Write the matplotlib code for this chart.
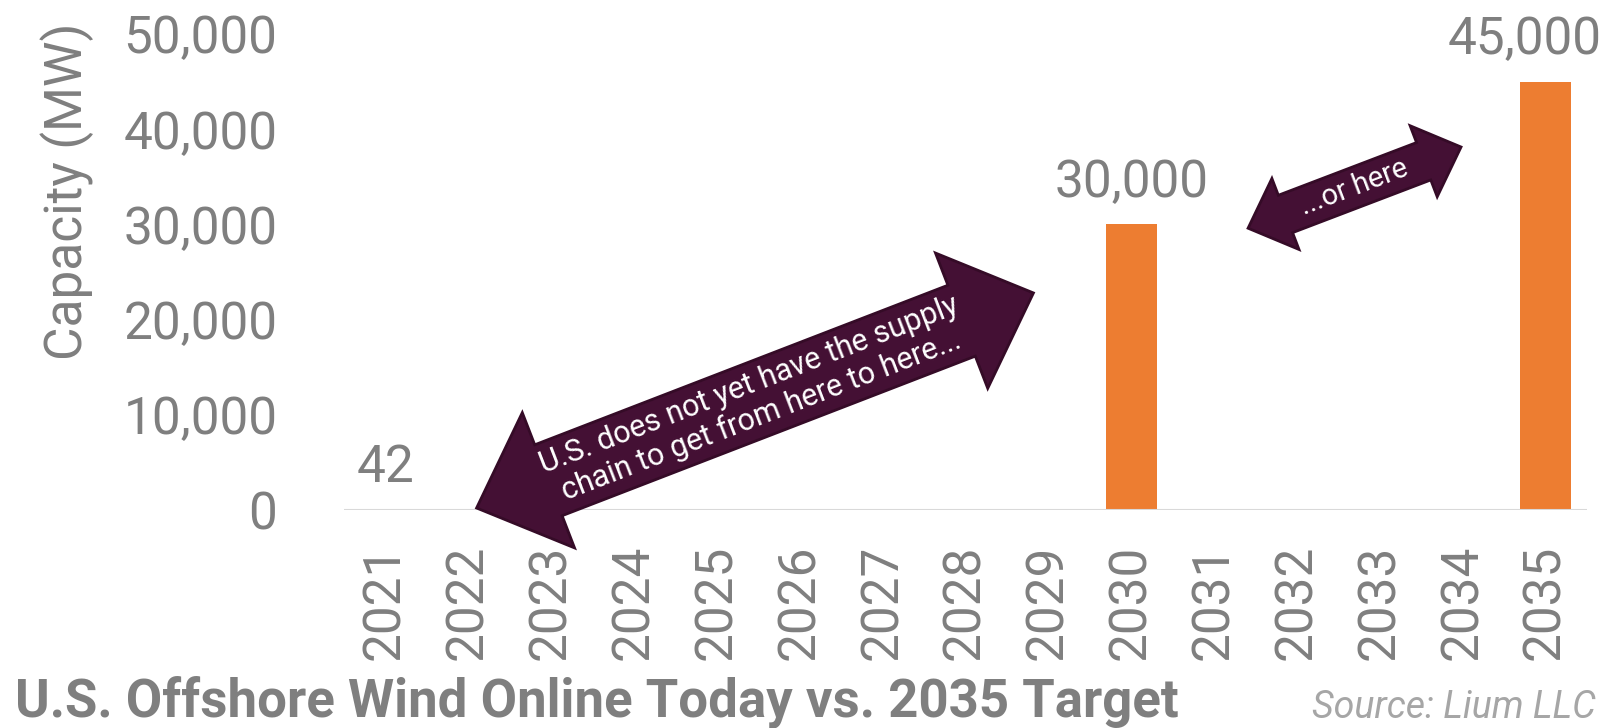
import numpy as np
import matplotlib.pyplot as plt
from matplotlib.patches import Polygon
from matplotlib.transforms import IdentityTransform

# data
years = ['2021', '2022', '2023', '2024', '2025', '2026', '2027', '2028',
         '2029', '2030', '2031', '2032', '2033', '2034', '2035']
capacity = [42, 0, 0, 0, 0, 0, 0, 0, 0, 30000, 0, 0, 0, 0, 45000]
labelled = ['2021', '2030', '2035']

gray = '#7f7f7f'
orange = '#ed7d31'
purple = '#441034'

plt.rcParams['font.family'] = ['Roboto', 'DejaVu Sans']

fig = plt.figure(figsize=(16.11, 7.28), dpi=100)
ax = fig.add_axes([344/1611, 1-510/728, (1587-344)/1611, (510-34)/728])

x = np.arange(len(years))
bars = ax.bar(x, capacity, width=0.62, color=orange, zorder=2)
ax.set_xlim(-0.5, len(years)-0.5)
ax.set_ylim(0, 50000)
ax.set_yticks(np.arange(0, 50001, 10000))
ax.set_yticklabels(['{:,}'.format(v) for v in range(0, 50001, 10000)])
ax.set_xticks(x)
ax.set_xticklabels(years, rotation=90)
ax.tick_params(axis='y', length=0, pad=48, labelsize=37, labelcolor=gray)
ax.tick_params(axis='x', length=0, pad=25, labelsize=37, labelcolor=gray)
for s in ax.spines.values():
    s.set_visible(False)
ax.axhline(0, color='#d9d9d9', lw=1.5, zorder=3)

for xi, yr, v in zip(x, years, capacity):
    if yr in labelled:
        dx = -15 if xi == len(years)-1 else 0  # keep last label inside the picture
        ax.annotate('{:,}'.format(v), (xi, v), xytext=(dx, 30), textcoords='offset points',
                    ha='center', va='center', fontsize=37, color=gray, annotation_clip=False)

fig.text(67/1611, 1-191/728, 'Capacity (MW)', rotation=90, ha='center', va='center',
         fontsize=37, color=gray)

fig.text(15/1611, 1-702/728, 'U.S. Offshore Wind Online Today vs. 2035 Target',
         ha='left', va='center', fontsize=38, fontweight='bold', color=gray)
fig.text(1596/1611, 1-707/728, 'Source: Lium LLC', ha='right', va='center',
         fontsize=27, style='italic', color='#a6a6a6')


def block_arrow(p1, p2, head_len, head_w, shaft_w):
    a = ax.transData.transform(p1)
    b = ax.transData.transform(p2)
    u = (b - a) / np.hypot(*(b - a))
    n = np.array([-u[1], u[0]])
    pts = [a,
           a + head_len*u + head_w/2*n,
           a + head_len*u + shaft_w/2*n,
           b - head_len*u + shaft_w/2*n,
           b - head_len*u + head_w/2*n,
           b,
           b - head_len*u - head_w/2*n,
           b - head_len*u - shaft_w/2*n,
           a + head_len*u - shaft_w/2*n,
           a + head_len*u - head_w/2*n]
    poly = Polygon(pts, closed=True, facecolor=purple, edgecolor='#350b27', lw=2,
                   transform=IdentityTransform(), zorder=5, clip_on=False)
    ax.add_patch(poly)
    return np.degrees(np.arctan2(u[1], u[0]))


# big arrow from 2022 baseline up toward the 2030 bar
ang = block_arrow((1.10, 210), (7.82, 22800), 77, 145, 76)
ax.text((1.10+7.82)/2, (210+22800)/2, 'U.S. does not yet have the supply\nchain to get from here to here...',
        rotation=ang, rotation_mode='anchor', ha='center', va='center', color='white',
        fontsize=22, linespacing=1.1, zorder=6)

# small arrow between 2030 and 2035
ang2 = block_arrow((10.41, 29600), (12.98, 38130), 40, 76, 40)
ax.text((10.41+12.98)/2, (29600+38130)/2, '...or here', rotation=ang2, rotation_mode='anchor',
        ha='center', va='center', color='white', fontsize=21, zorder=6)

fig.savefig('out.png', dpi=100)
